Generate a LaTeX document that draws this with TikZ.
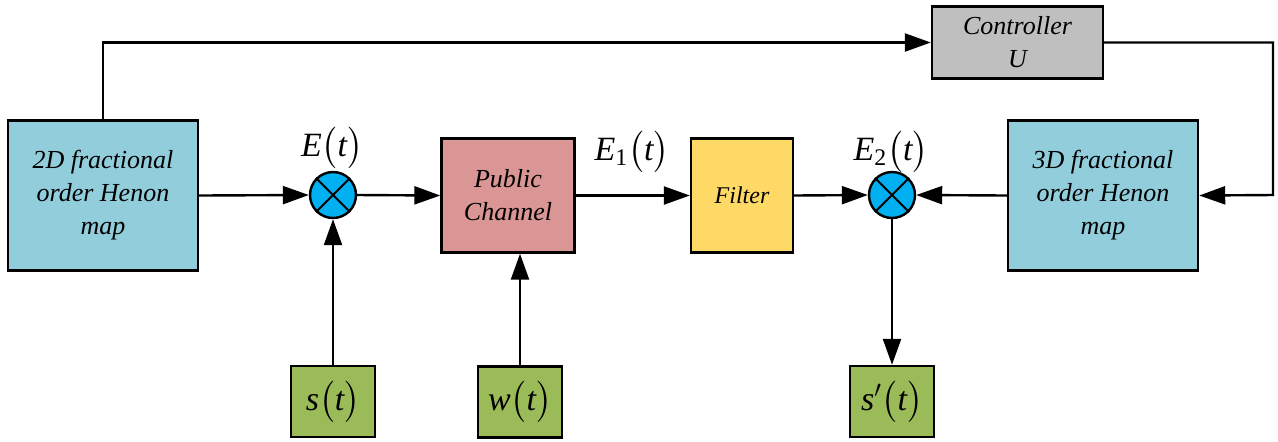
\documentclass[tikz,border=0pt]{standalone}
\usepackage{amsmath}
\usepackage{fontspec}
\setmainfont{Liberation Serif}
\usetikzlibrary{arrows.meta}

\definecolor{mapblue}{RGB}{146,205,220}
\definecolor{mixblue}{RGB}{0,176,240}
\definecolor{chanred}{RGB}{217,150,148}
\definecolor{filtyellow}{RGB}{255,217,102}
\definecolor{ctrlgray}{RGB}{191,191,191}
\definecolor{srcgreen}{RGB}{155,187,89}

\newcommand{\sv}[1]{\mathit{#1}}
\newcommand{\ofT}{\bigl(\sv{t}\bigr)}

\begin{document}
\begin{tikzpicture}[x=0.5pt,y=-0.5pt]
  \tikzset{block/.style = {draw,line width=1.2pt,inner sep=2pt,align=center,
      font=\fontsize{13}{16.5}\selectfont\itshape}}
  \tikzset{mixer/.style = {draw,circle,line width=1.2pt,fill=mixblue,
      minimum size=23pt,inner sep=0pt}}
  \tikzset{source/.style = {draw,line width=1.2pt,fill=srcgreen,
      minimum width=42pt,minimum height=35.5pt,inner sep=0pt,
      font=\fontsize{17}{20}\selectfont}}
  \tikzset{sig/.style = {font=\fontsize{17}{20}\selectfont}}
  \tikzset{wire/.style = {line width=1.2pt,-{Triangle[length=13pt,width=9pt]}}}

  \useasboundingbox (0,0) rectangle (1278,441);

\node[block,fill=mapblue,minimum width=95pt,minimum height=75pt] (map2d) at (103,195.5) {2D fractional\\order Henon\\map};
\node[mixer] (mix1) at (333,195) {};
\node[block,fill=chanred,minimum width=66.5pt,minimum height=57pt] (chan) at (508,195.5) {Public\\Channel};
\node[block,fill=filtyellow,minimum width=51pt,minimum height=57pt,
      font=\fontsize{12}{15}\selectfont\itshape] (filt) at (742,195.5) {Filter};
\node[mixer] (mix2) at (892,195) {};
\node[block,fill=mapblue,minimum width=95pt,minimum height=75pt] (map3d) at (1103,195.5) {3D fractional\\order Henon\\map};
\node[block,fill=ctrlgray,minimum width=85.5pt,minimum height=36pt] (ctrl) at (1017.5,42.5) {Controller\\U};

\node[source] (ssrc) at (333,401.5) {$\sv{s}\ofT$};
\node[source] (wsrc) at (520,402) {$\sv{w}\ofT$};
\node[source] (sout) at (892,401.5) {$\sv{s}'\ofT$};

\node[sig] (lab1) at (332,148) {$\sv{E}\ofT$};
\node[sig] (lab2) at (632,152) {$\sv{E}_{\mathrm{1}}\ofT$};
\node[sig] (lab3) at (891,152) {$\sv{E}_{\mathrm{2}}\ofT$};

\coordinate (rt) at (1273,195);

% crosses in the mixers
\draw[line width=1pt] (mix1.north west) -- (mix1.south east);
\draw[line width=1pt] (mix1.north east) -- (mix1.south west);
\draw[line width=1pt] (mix2.north west) -- (mix2.south east);
\draw[line width=1pt] (mix2.north east) -- (mix2.south west);

\draw[wire] (map2d.east) -- (mix1.west);
\draw[wire] (mix1.east) -- (chan.west);
\draw[wire] (chan.east) -- (filt.west);
\draw[wire] (filt.east) -- (mix2.west);
\draw[wire] (map3d.west) -- (mix2.east);

\draw[wire] (ssrc.north) -- (mix1.south);
\draw[wire] (wsrc.north) -- (wsrc.north |- chan.south);
\draw[wire] (mix2.south) -- (sout.north);

% feedback through the controller
\draw[wire] (map2d.north) |- (ctrl.west);
\draw[wire] (ctrl.east) -| (rt) -- (map3d.east);

\end{tikzpicture}
\end{document}
